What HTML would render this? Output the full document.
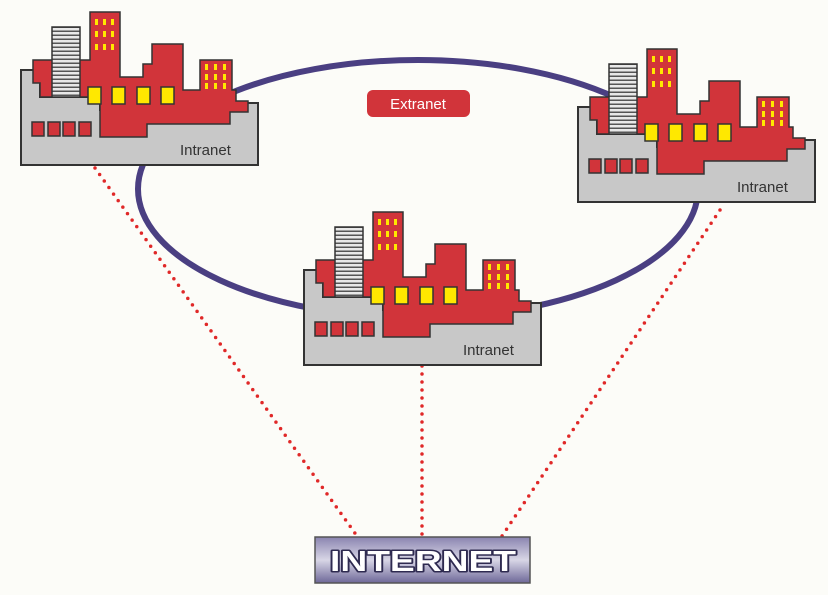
<!DOCTYPE html>
<html><head><meta charset="utf-8"><style>html,body{margin:0;padding:0;background:#fcfcf8;}svg{display:block}</style></head>
<body>
<svg width="828" height="595" viewBox="0 0 828 595" xmlns="http://www.w3.org/2000/svg">
<defs>
<pattern id="hatch" width="4" height="4" patternUnits="userSpaceOnUse"><rect width="4" height="4" fill="#e8e8e8"/><rect y="2.5" width="4" height="1.5" fill="#555"/></pattern>
<linearGradient id="ig" x1="0" y1="0" x2="0" y2="1"><stop offset="0" stop-color="#8a84b0"/><stop offset="0.5" stop-color="#d8d6e6"/><stop offset="1" stop-color="#6e6898"/></linearGradient>
<g id="fac">
<polygon points="21,70 40,70 40,97 100,97 100,110 245,110 245,103 258,103 258,165 21,165" fill="#c8c8c8" stroke="#333" stroke-width="2"/>
<polygon points="33,60 33,83 40,83 40,97 100,97 100,137 147,137 147,124 230,124 230,112 248,112 248,101 236,101 236,90 232,90 232,60 200,60 200,90 183,90 183,44 152,44 152,64 143,64 143,77 120,77 120,12 90,12 90,60" fill="#d1343a" stroke="#333" stroke-width="1.5"/>
<rect x="52" y="27" width="28" height="70" fill="url(#hatch)" stroke="#333" stroke-width="1.5"/>
<g fill="#ffe800" stroke="#333" stroke-width="1.5">
<rect x="88" y="87" width="13" height="17"/><rect x="112" y="87" width="13" height="17"/><rect x="137" y="87" width="13" height="17"/><rect x="161" y="87" width="13" height="17"/>
</g>
<g fill="#d1343a" stroke="#333" stroke-width="1.5">
<rect x="32" y="122" width="12" height="14"/><rect x="48" y="122" width="12" height="14"/><rect x="63" y="122" width="12" height="14"/><rect x="79" y="122" width="12" height="14"/>
</g>
<g fill="#ffe800">
<rect x="95" y="19" width="3" height="6"/><rect x="103" y="19" width="3" height="6"/><rect x="111" y="19" width="3" height="6"/>
<rect x="95" y="31" width="3" height="6"/><rect x="103" y="31" width="3" height="6"/><rect x="111" y="31" width="3" height="6"/>
<rect x="95" y="44" width="3" height="6"/><rect x="103" y="44" width="3" height="6"/><rect x="111" y="44" width="3" height="6"/>
<rect x="205" y="64" width="3" height="6"/><rect x="214" y="64" width="3" height="6"/><rect x="223" y="64" width="3" height="6"/>
<rect x="205" y="74" width="3" height="6"/><rect x="214" y="74" width="3" height="6"/><rect x="223" y="74" width="3" height="6"/>
<rect x="205" y="83" width="3" height="6"/><rect x="214" y="83" width="3" height="6"/><rect x="223" y="83" width="3" height="6"/>
</g>
<text x="180" y="155" font-family="Liberation Sans, sans-serif" font-size="15" fill="#333">Intranet</text>
</g>
</defs>
<ellipse cx="418" cy="189" rx="280" ry="129" fill="none" stroke="#4a3f82" stroke-width="6"/>
<g stroke="#e02828" stroke-width="3.5" stroke-linecap="round" stroke-dasharray="0 8" fill="none">
<line x1="95" y1="168" x2="357" y2="536"/>
<line x1="422" y1="366" x2="422" y2="536"/>
<line x1="720" y1="210" x2="502" y2="536"/>
</g>
<use href="#fac"/>
<use href="#fac" transform="translate(557,37)"/>
<use href="#fac" transform="translate(283,200)"/>
<rect x="367" y="90" width="103" height="27" rx="6" fill="#d1343a"/>
<text x="418" y="109" text-anchor="middle" font-family="Liberation Sans, sans-serif" font-size="15" fill="#fff">Extranet</text>
<rect x="315" y="537" width="215" height="46" fill="url(#ig)" stroke="#555" stroke-width="1.5"/>
<text x="330" y="571" textLength="186" lengthAdjust="spacingAndGlyphs" font-family="Liberation Sans, sans-serif" font-weight="bold" font-size="29" fill="#fff" stroke="#2e2a50" stroke-width="3" paint-order="stroke" stroke-linejoin="round">INTERNET</text>
</svg>
</body></html>
